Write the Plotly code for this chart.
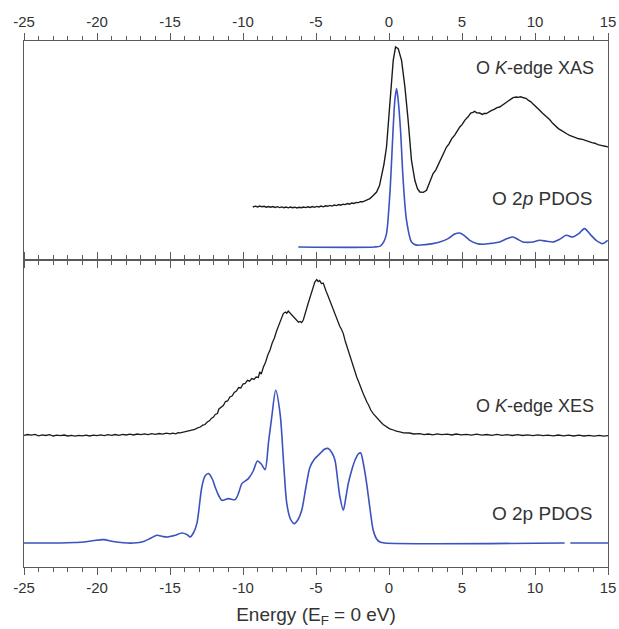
import plotly.graph_objects as go

# ---------------- data (energy in eV, intensity in arbitrary units) ----------------
xas = [(-9.33,52.6),(-9.15,53.4),(-9.0,52.7),(-8.85,53.6),(-8.7,52.8),(-8.55,53.3),(-8.4,52.4),(-8.25,53.1),
       (-8.1,52.4),(-7.95,53.0),(-7.8,52.2),(-7.65,52.9),(-7.5,52.0),(-7.35,52.7),(-7.2,51.9),(-7.05,52.5),
       (-6.9,51.8),(-6.75,52.6),(-6.6,51.9),(-6.45,52.4),(-6.3,51.6),(-6.15,52.3),(-6.0,51.9),(-5.85,52.6),
       (-5.7,52.0),(-5.55,52.8),(-5.4,52.2),(-5.25,53.0),(-5.1,52.3),(-4.95,53.2),(-4.8,52.7),(-4.65,53.5),
       (-4.5,52.8),(-4.35,53.8),(-4.2,53.3),(-4.05,54.2),(-3.9,53.5),(-3.75,54.6),(-3.6,54.0),(-3.45,55.0),
       (-3.3,54.4),(-3.15,55.4),(-3.0,55.0),(-2.85,56.0),(-2.7,55.4),(-2.55,56.6),(-2.4,56.2),(-2.25,57.2),
       (-2.1,57.0),(-1.95,58.0),(-1.8,57.8),(-1.65,59.0),(-1.5,59.5),(-1.31,61),(-1.08,64),(-0.85,67.6),
       (-0.65,74),(-0.51,82.6),(-0.35,95),(-0.17,112.6),(0.06,156),(0.29,199.3),(0.45,212.6),(0.63,211),
       (0.86,199.3),(1.09,172.6),(1.31,139.3),(1.54,99.3),(1.77,79.3),(1.95,71),(2.11,67.6),(2.35,67.2),
       (2.57,69.3),(2.8,77),(3.02,86),(3.2,89.5),(3.4,96),(3.6,102),(3.8,108.5),(3.94,112.6),(4.1,115.5),
       (4.3,121),(4.5,124.5),(4.7,129.5),(4.85,132.6),(5.0,135),(5.2,139.5),(5.4,142.5),(5.6,146.5),
       (5.75,147.2),(5.87,148.3),(6.0,146.8),(6.2,146.6),(6.4,145.2),(6.55,146.4),(6.67,146),(6.85,147.8),
       (7.0,149),(7.2,150.2),(7.4,152),(7.58,152.6),(7.75,154.5),(7.9,156),(8.05,157.5),(8.2,159.5),
       (8.35,160.8),(8.5,162),(8.72,162.6),(8.85,162.2),(9.0,162.8),(9.2,161.7),(9.41,161),(9.55,159.2),
       (9.7,158),(9.85,155.8),(10.0,154),(10.15,151.5),(10.32,149.3),(10.5,146.5),(10.7,144),(10.85,141.5),
       (11.0,140),(11.23,136),(11.4,133.5),(11.6,131),(11.8,129.2),(12.0,127),(12.2,125.6),(12.37,124.3),
       (12.55,123.2),(12.7,122),(12.85,121.6),(13.0,120.8),(13.25,120.2),(13.51,119.3),(13.7,118),
       (13.9,117),(14.1,116.4),(14.3,115),(14.45,114.8),(14.6,114),(14.8,113.4),(14.99,112.6)]

pdos_top = [(-6.21,12.6),(-1.0,12.6),(-0.6,13.5),(-0.35,18),(-0.17,26),(0.06,66),(0.29,132.6),(0.40,159.3),
            (0.52,171),(0.63,159.3),(0.79,129.3),(0.97,79.3),(1.20,39.3),(1.54,17.6),(1.89,14.5),(2.5,15),
            (3.0,16),(3.48,17.6),(4.05,21),(4.5,25.5),(4.85,26.6),(5.2,23.5),(5.53,19.3),(6.0,16.2),
            (6.44,15.3),(7.0,16.2),(7.58,17.6),(8.1,21),(8.49,22.6),(8.85,20),(9.17,17.6),(9.5,17.2),
            (9.86,17.6),(10.32,19.3),(10.8,18.3),(11.23,17.6),(11.7,20.5),(12.14,24.3),(12.59,22.6),
            (13.0,26),(13.39,31),(13.8,25),(14.19,19.3),(14.64,16),(14.98,19.3)]

xes = [(-25,131.7),(-24.75,132.5),(-24.5,131.8),(-24.25,132.6),(-24,131.2),(-23.75,132.1),(-23.5,131.5),
       (-23.25,132.3),(-23,131.0),(-22.75,131.9),(-22.5,131.3),(-22.25,132.0),(-22,131.0),(-21.75,131.7),
       (-21.5,130.8),(-21.25,131.7),(-21,131.1),(-20.75,131.9),(-20.5,131.0),(-20.25,131.8),(-20,131.4),
       (-19.75,132.2),(-19.5,131.4),(-19.25,132.3),(-19,131.7),(-18.75,132.5),(-18.5,131.6),(-18.25,132.6),
       (-18,132.0),(-17.75,132.8),(-17.5,132.0),(-17.25,133.0),(-17,132.3),(-16.75,133.1),(-16.5,132.4),
       (-16.25,133.3),(-16,132.7),(-15.75,133.5),(-15.5,132.8),(-15.25,133.8),(-15,133.1),(-14.8,133.9),
       (-14.6,133.2),(-14.45,134.4),(-14.3,134.2),(-14.1,134.8),(-13.9,135.5),(-13.7,135.9),(-13.5,137),
       (-13.3,137.6),(-13.1,139.2),(-12.93,140),(-12.75,141.8),(-12.6,142.5),(-12.45,145),(-12.3,146.2),
       (-12.15,148.8),(-12.02,150),(-11.9,152.5),(-11.75,153.5),(-11.65,158),(-11.5,160),(-11.35,161.5),
       (-11.2,165.5),(-11.05,166),(-10.9,170),(-10.75,171),(-10.6,174.5),(-10.45,176),(-10.3,179.5),
       (-10.15,179),(-10.0,183),(-9.85,183.5),(-9.7,186.7),(-9.55,185.8),(-9.4,188.5),(-9.25,187.6),
       (-9.1,190),(-8.95,189.5),(-8.85,195),(-8.75,193),(-8.6,200),(-8.45,205),(-8.3,212),(-8.15,217),
       (-8.0,224),(-7.85,229),(-7.7,236),(-7.55,242),(-7.4,249),(-7.24,253.4),(-7.1,255),(-7.0,253.8),
       (-6.9,256),(-6.78,254),(-6.65,252.5),(-6.5,250),(-6.4,247.5),(-6.3,246.5),(-6.2,244.8),
       (-6.09,245.5),(-5.98,244.5),(-5.87,247),(-5.75,252),(-5.65,258),(-5.53,264),(-5.41,270),
       (-5.3,276),(-5.2,281),(-5.08,285),(-4.95,287.5),(-4.85,285.5),(-4.75,286.5),(-4.63,283.5),
       (-4.5,283.8),(-4.4,279),(-4.3,275.5),(-4.2,272),(-4.05,266),(-3.92,261),(-3.82,256.7),(-3.7,252.5),
       (-3.6,249.5),(-3.5,246),(-3.38,241),(-3.25,237.5),(-3.13,233.4),(-3.0,226),(-2.9,221.5),(-2.8,216),
       (-2.65,208),(-2.55,204.5),(-2.45,200),(-2.3,193),(-2.2,189.5),(-2.1,186),(-1.95,179),(-1.85,176.5),
       (-1.77,173.4),(-1.6,167),(-1.5,164.5),(-1.4,162),(-1.25,157),(-1.08,153.4),(-0.9,150),(-0.75,147.5),
       (-0.6,145.5),(-0.4,142.5),(-0.17,140.5),(0.05,138.2),(0.3,137),(0.5,135.8),(0.74,135.2),(1.0,134.2),
       (1.4,134),(1.7,133),(2.11,133.4),(2.4,132.4),(2.7,133.0),(3.0,132.2),(3.3,133.2),(3.6,132.3),
       (4.0,132.9),(4.3,132.0),(4.6,133.0),(4.95,132.1),(5.3,132.7),(5.65,131.8),(6.0,132.8),(6.35,131.9),
       (6.7,132.5),(7.05,131.7),(7.4,132.6),(7.75,131.6),(8.1,132.3),(8.45,131.5),(8.8,132.4),(9.15,131.5),
       (9.5,132.1),(9.85,131.3),(10.2,132.2),(10.55,131.4),(10.9,131.9),(11.25,131.1),(11.6,132.0),
       (11.95,131.2),(12.3,131.8),(12.65,131.0),(13.0,131.8),(13.35,131.0),(13.7,131.6),(14.05,130.9),
       (14.4,131.6),(14.7,130.9),(15,131.3)]

pdos_bottom = [(-25,24),(-22.5,24),(-21.5,24.5),(-20.9,25),(-20.2,26.5),(-19.54,27.4),(-18.9,25.5),
               (-18.2,24.2),(-17.49,24),(-16.8,25.5),(-16.3,29),(-15.89,31.7),(-15.5,30.5),(-15.21,30),
               (-14.7,31.5),(-14.18,34),(-13.85,32.5),(-13.62,30),(-13.4,34),(-13.16,43.4),(-12.82,80),
               (-12.6,91),(-12.36,93.4),(-12.1,88),(-11.91,80),(-11.65,71),(-11.45,66.7),(-11.0,68.4),
               (-10.54,67.4),(-10.3,74),(-10.08,83.4),(-9.63,88.4),(-9.3,96),(-9.01,106),(-8.75,103),
               (-8.49,97.4),(-8.25,125),(-8.03,150),(-7.76,176.7),(-7.46,153.4),(-7.2,100),(-7.0,63.4),
               (-6.75,48),(-6.5,43.4),(-6.25,47),(-5.98,56.7),(-5.7,79),(-5.41,100),(-5.1,108),
               (-4.73,113.4),(-4.4,118),(-4.16,118.4),(-3.9,114),(-3.70,106.7),(-3.5,85),(-3.36,70),
               (-3.13,56.7),(-2.95,70),(-2.79,83.4),(-2.55,97),(-2.33,106.7),(-2.1,113),(-1.94,114),
               (-1.75,103),(-1.53,83.4),(-1.3,58),(-1.08,36.7),(-0.85,28),(-0.62,25),(-0.3,24),(12.03,24),
               (None,None),(12.42,24),(15,24)]

labels_top = ["O <i>K</i>-edge XAS", "O 2<i>p</i> PDOS"]
labels_bottom = ["O <i>K</i>-edge XES", "O 2p PDOS"]
tick_vals = [-25, -20, -15, -10, -5, 0, 5, 10, 15]
tick_text = ["-25", "-20", "-15", "-10", "-5", "0", "5", "10", "15"]

BLACK = "#1b1b1b"
BLUE = "#3b52c0"
AXC = "#5a5a5a"
TXT = "#333333"
FONT = "Liberation Sans, Arial, sans-serif"


def unzip(pairs):
    return [p[0] for p in pairs], [p[1] for p in pairs]


fig = go.Figure()
x, y = unzip(xas)
fig.add_trace(go.Scatter(x=x, y=y, xaxis="x2", yaxis="y2", mode="lines",
                         line=dict(color=BLACK, width=1.4)))
x, y = unzip(pdos_top)
fig.add_trace(go.Scatter(x=x, y=y, xaxis="x2", yaxis="y2", mode="lines",
                         line=dict(color=BLUE, width=1.6, shape="spline", smoothing=0.8)))
x, y = unzip(xes)
fig.add_trace(go.Scatter(x=x, y=y, xaxis="x", yaxis="y", mode="lines",
                         line=dict(color=BLACK, width=1.3)))
x, y = unzip(pdos_bottom)
fig.add_trace(go.Scatter(x=x, y=y, xaxis="x", yaxis="y", mode="lines", connectgaps=False,
                         line=dict(color=BLUE, width=1.6, shape="spline", smoothing=0.8)))

split = 307.4 / 526.0

xcommon = dict(range=[-25, 15], tickvals=tick_vals, ticktext=tick_text, ticks="outside", ticklen=7,
               tickwidth=1, tickcolor=AXC, showline=True, linecolor=AXC, linewidth=1, mirror="ticks",
               showgrid=False, zeroline=False, tickfont=dict(size=15, color=TXT, family=FONT),
               minor=dict(dtick=1, tick0=-25, ticks="outside", ticklen=4, tickcolor=AXC, showgrid=False))
ycommon = dict(showline=True, linecolor=AXC, linewidth=1, mirror=True, ticks="",
               showticklabels=False, showgrid=False, zeroline=False)

fig.update_layout(
    width=619, height=629,
    margin=dict(l=23.5, r=10.5, t=41, b=62, autoexpand=False),
    paper_bgcolor="white", plot_bgcolor="white",
    showlegend=False,
    font=dict(family=FONT, color=TXT),
    xaxis=dict(**xcommon, anchor="y", side="bottom",
               title=dict(text="Energy (E<sub>F</sub> = 0 eV)", font=dict(size=19, color=TXT), standoff=12)),
    yaxis=dict(**ycommon, domain=[0, split], range=[0, 307.4]),
    xaxis2=dict(**xcommon, anchor="y2", side="top", matches="x"),
    yaxis2=dict(**ycommon, domain=[split, 1], range=[0, 218.6]),
)

fig.add_annotation(x=9.97, y=192, xref="x2", yref="y2", text=labels_top[0], showarrow=False,
                   font=dict(size=18, color=TXT))
fig.add_annotation(x=10.45, y=61, xref="x2", yref="y2", text=labels_top[1], showarrow=False,
                   font=dict(size=19, color=TXT))
fig.add_annotation(x=9.97, y=160.7, xref="x", yref="y", text=labels_bottom[0], showarrow=False,
                   font=dict(size=18, color=TXT))
fig.add_annotation(x=10.45, y=53.7, xref="x", yref="y", text=labels_bottom[1], showarrow=False,
                   font=dict(size=19, color=TXT))

# remove the browser's default 8px page margin so the 619x629 figure fills the window exactly
fig.write_html("out.html", config={"displayModeBar": False},
               post_script="document.body.style.margin='0';document.body.style.overflow='hidden';")
